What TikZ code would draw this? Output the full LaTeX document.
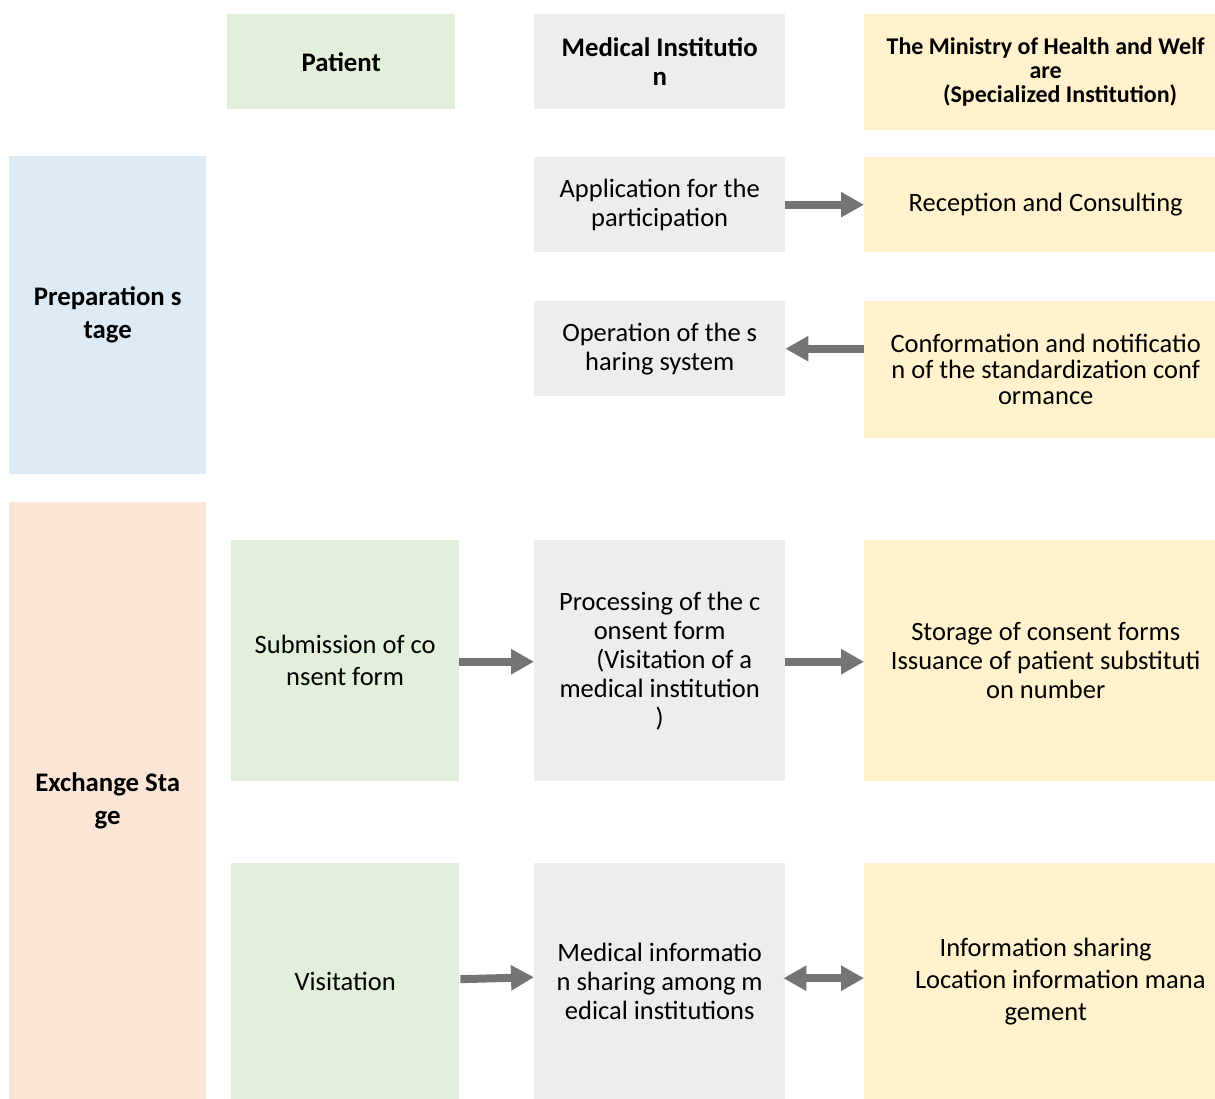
\documentclass[tikz,border=0pt]{standalone}
\usepackage{fontspec}
\setmainfont{Carlito}
\usetikzlibrary{arrows.meta}
\definecolor{patientgreen}{HTML}{E2EFDA}
\definecolor{instgray}{HTML}{EDEDED}
\definecolor{ministryyellow}{HTML}{FFF2CC}
\definecolor{prepblue}{HTML}{DDEBF7}
\definecolor{exchpeach}{HTML}{FBE5D6}
\definecolor{arrowgray}{HTML}{747474}
\tikzset{
  cell/.style={rectangle, draw=none, anchor=north west, align=center, inner sep=0pt,
    font=\fontsize{26.5}{29}\selectfont},
  head/.style={cell, font=\fontsize{26.8}{29}\selectfont\bfseries},
  flow/.style={draw=arrowgray, line width=8pt, -{Triangle[length=23pt,width=24pt]}},
  twoway/.style={draw=arrowgray, line width=8pt, {Triangle[length=23pt,width=24pt]}-{Triangle[length=23pt,width=24pt]}},
}
\begin{document}
\begin{tikzpicture}[x=1pt,y=-1pt]
\useasboundingbox (0,0) rectangle (1215,1099);
% column headers
\node[head, fill=patientgreen, minimum width=228pt, minimum height=95pt] (hpat) at (227,14) {Patient};
\node[head, fill=instgray, minimum width=251pt, minimum height=95pt] (hinst) at (534,14) {Medical Institutio\\n};
\node[head, fill=ministryyellow, minimum width=363pt, minimum height=116pt,
  font=\fontsize{24}{24}\selectfont\bfseries] (hmin) at (864,14)
  {The Ministry of Health and Welf\\are\\\hspace*{1.2em}(Specialized Institution)};
% stage labels
\node[head, fill=prepblue, minimum width=197pt, minimum height=318pt,
  font=\fontsize{26.8}{33}\selectfont\bfseries] (prep) at (9,156) {Preparation s\\tage};
\node[head, fill=exchpeach, minimum width=197pt, minimum height=597pt,
  font=\fontsize{26.8}{33}\selectfont\bfseries] (exch) at (9,502) {Exchange Sta\\ge};
% preparation stage
\node[cell, fill=instgray, minimum width=251pt, minimum height=95pt] (apply) at (534,157) {Application for the\\participation};
\node[cell, fill=ministryyellow, minimum width=363pt, minimum height=95pt] (recept) at (864,157) {Reception and Consulting};
\node[cell, fill=instgray, minimum width=251pt, minimum height=95pt] (operate) at (534,301) {Operation of the s\\haring system};
\node[cell, fill=ministryyellow, minimum width=363pt, minimum height=137pt,
  font=\fontsize{26.5}{26}\selectfont] (confirm) at (864,301) {Conformation and notificatio\\n of the standardization conf\\ormance};
% exchange stage
\node[cell, fill=patientgreen, minimum width=228pt, minimum height=241pt,
  font=\fontsize{26.5}{32}\selectfont] (submit) at (231,540) {Submission of co\\nsent form};
\node[cell, fill=instgray, minimum width=251pt, minimum height=241pt] (process) at (534,540)
  {Processing of the c\\onsent form\\\hspace*{1.1em}(Visitation of a\\medical institution\\)};
\node[cell, fill=ministryyellow, minimum width=363pt, minimum height=241pt] (store) at (864,540)
  {Storage of consent forms\\Issuance of patient substituti\\on number};
\node[cell, fill=patientgreen, minimum width=228pt, minimum height=236pt] (visit) at (231,863) {Visitation};
\node[cell, fill=instgray, minimum width=251pt, minimum height=236pt] (share) at (534,863)
  {Medical informatio\\n sharing among m\\edical institutions};
\node[cell, fill=ministryyellow, minimum width=363pt, minimum height=236pt,
  font=\fontsize{26.5}{32}\selectfont] (locate) at (864,863)
  {Information sharing\\\hspace*{1.1em}Location information mana\\gement};
% connectors
\draw[flow] (apply.east) -- (recept.west);
\draw[flow] (confirm.west |- operate.east) -- (operate.east);
\draw[flow] ([yshift=-1pt]submit.east) -- ([yshift=-1pt]process.west);
\draw[flow] ([yshift=-1pt]process.east) -- ([yshift=-1pt]store.west);
\draw[flow] ([xshift=1pt,yshift=2pt]visit.east) -- ([yshift=4pt]share.west);
\draw[twoway] ([xshift=-2pt,yshift=3pt]share.east) -- ([yshift=3pt]locate.west);
\end{tikzpicture}
\end{document}
